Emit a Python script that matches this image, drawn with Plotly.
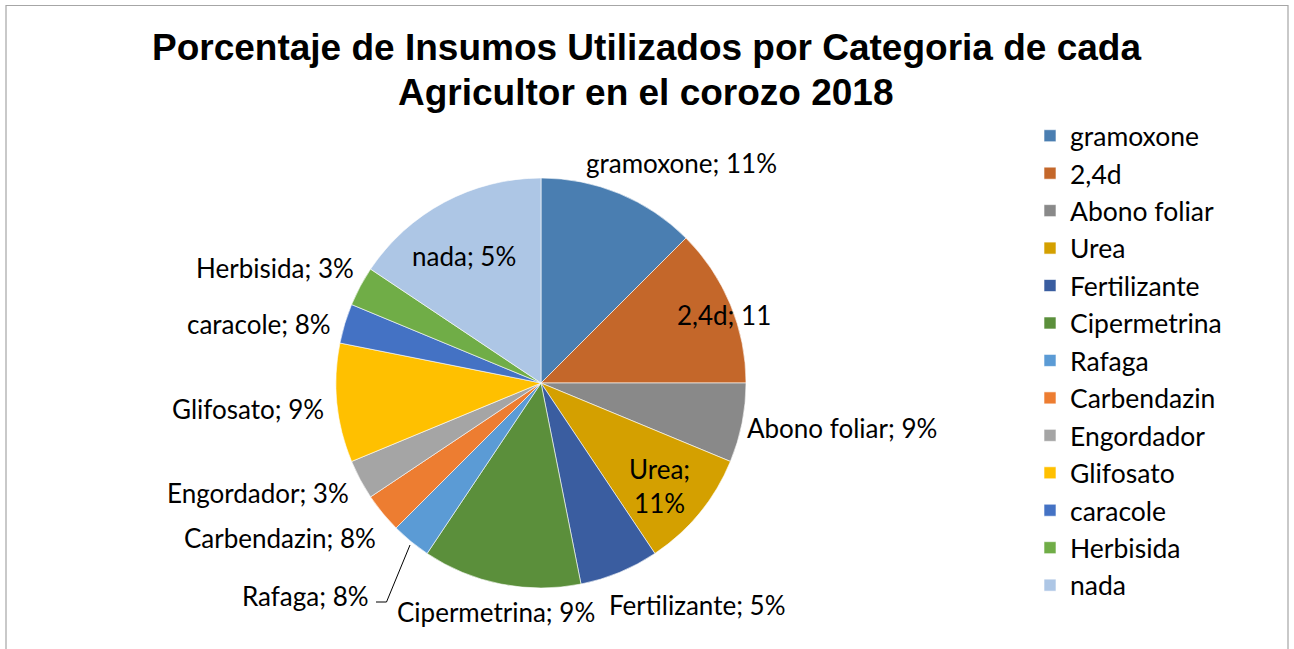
import plotly.graph_objects as go

# ---- data ----
labels = ["gramoxone", "2,4d", "Abono foliar", "Urea", "Fertilizante", "Cipermetrina",
          "Rafaga", "Carbendazin", "Engordador", "Glifosato", "caracole", "Herbisida", "nada"]
values = [4, 4, 2, 3, 2, 4, 1, 1, 1, 3, 1, 1, 5]
label_pct = ["11%", "11", "9%", "11%", "5%", "9%", "8%", "8%", "3%", "9%", "8%", "3%", "5%"]
title_lines = ["Porcentaje de Insumos Utilizados por Categoria de cada",
               "Agricultor en el corozo 2018"]

# ---- style ----
colors = ["#4A7EB1", "#C4672A", "#898989", "#D4A000", "#3A5DA0", "#5B8F3B",
          "#5B9BD5", "#ED7D31", "#A5A5A5", "#FFC000", "#4472C4", "#70AD47", "#ADC6E5"]
W, H = 1294, 649
cx, cy, R = 541, 383, 205
# label centres in pixels (x, y) and line-break flags
label_pos = [(681, 163), (724, 315), (842, 428), (659, 486), (697, 605), (496, 612),
             (305, 596), (280, 538), (258, 493), (248, 409), (259, 324), (275, 268), (464, 256)]
label_break = [False, False, False, True, False, False, False, False, False, False, False, False, False]
FONT = "Lato, Open Sans, sans-serif"

fig = go.Figure(go.Pie(
    labels=labels, values=values, sort=False, direction="clockwise", rotation=0,
    marker=dict(colors=colors, line=dict(color="white", width=0.6)),
    textinfo="none", hoverinfo="label+value",
    domain=dict(x=[(cx - R) / W, (cx + R) / W], y=[(H - cy - R) / H, (H - cy + R) / H]),
))

annotations = []
for lab, pct, (px, py), brk in zip(labels, label_pct, label_pos, label_break):
    txt = f"{lab};<br>{pct}" if brk else f"{lab}; {pct}"
    annotations.append(dict(x=px / W, y=1 - py / H, xref="paper", yref="paper",
                            text=txt, showarrow=False, xanchor="center", yanchor="middle",
                            font=dict(family=FONT, size=26, color="black")))
for i, (t, py) in enumerate(zip(title_lines, [48, 92])):
    annotations.append(dict(x=646 / W, y=1 - py / H, xref="paper", yref="paper",
                            text=f"<b>{t}</b>", showarrow=False, xanchor="center", yanchor="middle",
                            font=dict(family="Liberation Sans, Arial, sans-serif", size=37, color="black")))

def P(x, y):
    return f"{x / W},{1 - y / H}"

shapes = [
    dict(type="rect", xref="paper", yref="paper", x0=6 / W, x1=1288 / W, y0=-0.1, y1=1 - 5.5 / H,
         line=dict(color="#A6A6A6", width=1.2), fillcolor="rgba(0,0,0,0)"),
    dict(type="path", xref="paper", yref="paper",
         path=f"M{P(376, 602)} L{P(386.5, 602)} L{P(410, 545)}",
         line=dict(color="black", width=1)),
]

fig.update_layout(
    width=W, height=H, margin=dict(l=0, r=0, t=0, b=0),
    paper_bgcolor="white", plot_bgcolor="white",
    annotations=annotations, shapes=shapes,
    showlegend=True,
    legend=dict(x=1030 / W, y=1 - 112 / H, xanchor="left", yanchor="top",
                font=dict(family=FONT, size=26.5, color="black"), bgcolor="rgba(0,0,0,0)",
                traceorder="normal"),
)

fig.write_html("out.html", config={"displayModeBar": False},
               post_script="document.body.style.margin='0px';document.body.style.overflow='hidden';")
